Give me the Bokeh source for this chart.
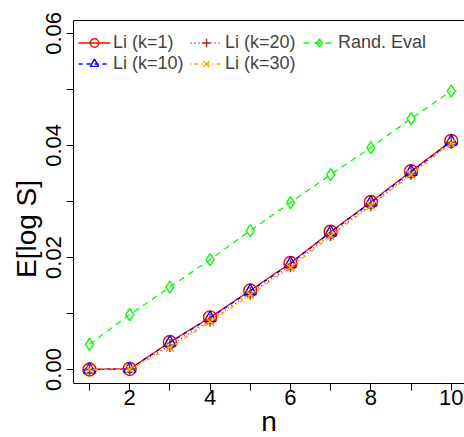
from bokeh.plotting import figure
from bokeh.models import (Range1d, LinearAxis, FixedTicker, CustomJSTickFormatter,
                          Legend, LegendItem, Title)
from bokeh.embed import file_html
from bokeh.resources import INLINE

n = [1, 2, 3, 4, 5, 6, 7, 8, 9, 10]
li_k1 = [0.0, 0.0001, 0.0049, 0.0093, 0.0141, 0.0190, 0.0246, 0.0299, 0.0354, 0.0408]
li_k10 = [0.0, 0.0001, 0.0048, 0.0092, 0.0140, 0.0189, 0.0245, 0.0298, 0.0353, 0.0407]
li_k20 = [0.0, 0.0001, 0.0043, 0.0088, 0.0136, 0.0185, 0.0241, 0.0294, 0.0350, 0.0405]
li_k30 = [0.0, 0.0000, 0.0039, 0.0085, 0.0133, 0.0182, 0.0238, 0.0292, 0.0348, 0.0404]
rand_eval = [0.0045, 0.0098, 0.0147, 0.0196, 0.0248, 0.0298, 0.0348, 0.0396, 0.0448, 0.0497]

x_ticks = [1, 2, 3, 4, 5, 6, 7, 8, 9, 10]
y_ticks = [0.0, 0.01, 0.02, 0.03, 0.04, 0.05, 0.06]

FONT = "Liberation Sans"

Y_LO, Y_HI = -0.0025, 0.0623     # box limits of the plot region
Y_VIEW_LO = -0.01214             # extra room below the box for the x axis

p = figure(width=464, height=437, output_backend="svg", toolbar_location=None,
           x_range=Range1d(0.602, 10.33), y_range=Range1d(Y_VIEW_LO, Y_HI),
           x_axis_location=None, y_axis_location=None,
           min_border_left=73, min_border_right=0, min_border_top=20,
           min_border_bottom=0)
p.outline_line_color = None
p.xgrid.visible = False
p.ygrid.visible = False
p.background_fill_color = "white"
p.border_fill_color = "white"

xaxis = LinearAxis(ticker=FixedTicker(ticks=x_ticks), fixed_location=Y_LO,
                   formatter=CustomJSTickFormatter(code="return (tick % 2 == 0) ? tick.toString() : '';"),
                   axis_label="n")
yaxis = LinearAxis(ticker=FixedTicker(ticks=y_ticks), bounds=(Y_LO, Y_HI),
                   formatter=CustomJSTickFormatter(code="return (Math.round(tick*100) % 2 == 0) ? tick.toFixed(2) : '';"))
for ax in (xaxis, yaxis):
    ax.axis_line_color = "black"
    ax.major_tick_line_color = "black"
    ax.minor_tick_line_color = None
    ax.major_tick_out = 7
    ax.major_tick_in = 0
    ax.major_label_text_font = FONT
    ax.major_label_text_font_size = "22px"
    ax.major_label_text_color = "black"
    ax.axis_label_text_font = FONT
    ax.axis_label_text_font_size = "28px"
    ax.axis_label_text_font_style = "normal"
    ax.axis_label_text_color = "black"
xaxis.major_label_standoff = 0
xaxis.axis_label_standoff = -3
yaxis.major_label_orientation = "vertical"
yaxis.major_label_standoff = 5
p.add_layout(xaxis, "below")
p.add_layout(yaxis, "left")

ytitle = Title(text="E[log S]", align="center", offset=27, standoff=3,
               text_font=FONT, text_font_size="28px", text_font_style="normal",
               text_color="black")
p.add_layout(ytitle, "left")

top = LinearAxis(ticker=FixedTicker(ticks=[]), major_label_text_font_size="0px",
                 major_tick_out=0, major_tick_in=0, minor_tick_out=0, minor_tick_in=0,
                 axis_line_color="black")
p.add_layout(top, "above")

series = [
    ("Li (k=1)", li_k1, "red", "solid", "circle", 13),
    ("Li (k=10)", li_k10, "blue", "4 4", "triangle", 12),
    ("Li (k=20)", li_k20, "#A52A2A", "1 3", "cross", 13),
    ("Li (k=30)", li_k30, "orange", "1 3 4 3", "x", 11),
    ("Rand. Eval", rand_eval, "#00FF00", "6 5", "diamond", 12),
]
items = []
for label, ys, color, dash, marker, size in series:
    r1 = p.line(n, ys, line_color=color, line_width=1.3, line_dash=dash)
    r2 = p.scatter(n, ys, marker=marker, size=size, line_color=color,
                   fill_color=None, line_width=1.4)
    items.append(LegendItem(label=label, renderers=[r1, r2]))

frame_h = 437 - 20
row_h = 21
top_off = 11.5
columns = [(items[0:2], 5), (items[2:4], 117), (items[4:5], 230)]
for col_items, xoff in columns:
    h = row_h * len(col_items)
    lg = Legend(items=col_items, location=(xoff, frame_h - top_off - h),
                orientation="vertical",
                background_fill_alpha=0, border_line_color=None,
                label_text_font=FONT, label_text_font_size="18px",
                glyph_width=32, glyph_height=row_h, label_height=row_h,
                label_standoff=3, spacing=0, padding=0, margin=0)
    p.add_layout(lg)

open("out.html", "w").write(file_html(p, INLINE))
